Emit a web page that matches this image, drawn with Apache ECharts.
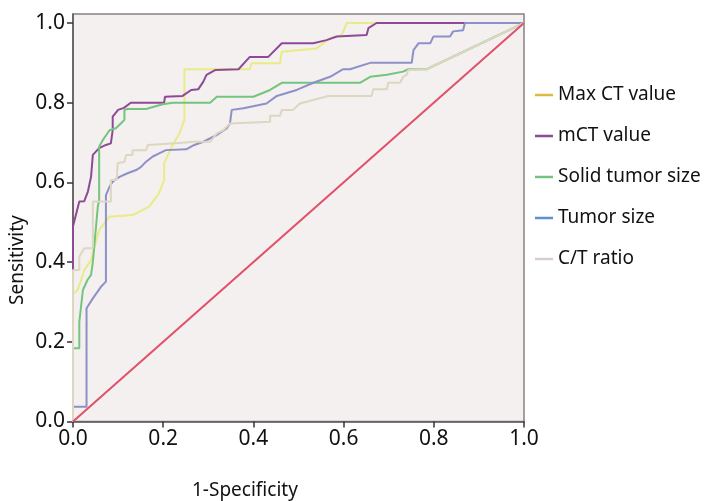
<!DOCTYPE html>
<html>
<head>
<meta charset="utf-8">
<script src="https://cdn.jsdelivr.net/npm/echarts@6/dist/echarts.min.js"></script>
<style>
html,body{margin:0;padding:0;background:#fff;}
#c{width:706px;height:501px;}
</style>
</head>
<body>
<div id="c"></div>
<script>
var seriesNames = ['Max CT value', 'mCT value', 'Solid tumor size', 'Tumor size', 'C/T ratio'];
var tickValues = [0, 0.2, 0.4, 0.6, 0.8, 1.0];

var maxCT = [[0,0],[0,0.32],[0.01,0.33],[0.018,0.355],[0.025,0.38],[0.04,0.405],[0.058,0.48],[0.081,0.514],[0.132,0.518],[0.169,0.539],[0.191,0.573],[0.202,0.606],[0.202,0.648],[0.221,0.694],[0.236,0.723],[0.247,0.757],[0.247,0.884],[0.392,0.884],[0.396,0.899],[0.459,0.899],[0.463,0.928],[0.54,0.936],[0.57,0.962],[0.596,0.97],[0.607,1.0],[1,1]];

var mCT = [[0,0],[0,0.49],[0.014,0.552],[0.025,0.553],[0.033,0.577],[0.04,0.614],[0.044,0.669],[0.058,0.686],[0.073,0.694],[0.084,0.698],[0.088,0.731],[0.088,0.765],[0.1,0.782],[0.113,0.787],[0.128,0.80],[0.202,0.80],[0.204,0.815],[0.243,0.817],[0.262,0.832],[0.278,0.834],[0.289,0.853],[0.296,0.87],[0.315,0.882],[0.367,0.884],[0.392,0.915],[0.433,0.915],[0.463,0.949],[0.533,0.949],[0.562,0.957],[0.585,0.966],[0.651,0.97],[0.655,0.987],[0.673,1.0],[1,1]];

var solidSize = [[0,0],[0,0.184],[0.014,0.184],[0.014,0.25],[0.022,0.33],[0.032,0.355],[0.04,0.368],[0.044,0.4],[0.055,0.539],[0.058,0.556],[0.058,0.69],[0.066,0.706],[0.081,0.731],[0.095,0.736],[0.106,0.748],[0.114,0.757],[0.114,0.782],[0.121,0.784],[0.162,0.784],[0.199,0.796],[0.221,0.80],[0.304,0.80],[0.319,0.815],[0.40,0.815],[0.437,0.832],[0.463,0.85],[0.636,0.85],[0.659,0.865],[0.696,0.87],[0.732,0.878],[0.743,0.884],[0.784,0.884],[1,1]];

var tumorSize = [[0,0],[0,0.037],[0.03,0.037],[0.03,0.284],[0.044,0.309],[0.062,0.338],[0.073,0.351],[0.073,0.568],[0.081,0.589],[0.088,0.602],[0.103,0.614],[0.121,0.623],[0.14,0.631],[0.151,0.639],[0.162,0.652],[0.177,0.665],[0.191,0.673],[0.206,0.681],[0.251,0.683],[0.269,0.694],[0.289,0.702],[0.319,0.719],[0.341,0.736],[0.348,0.748],[0.352,0.782],[0.378,0.786],[0.429,0.798],[0.452,0.817],[0.496,0.832],[0.533,0.85],[0.57,0.865],[0.599,0.884],[0.614,0.884],[0.659,0.90],[0.751,0.90],[0.755,0.932],[0.766,0.949],[0.792,0.949],[0.799,0.966],[0.836,0.966],[0.843,0.979],[0.865,0.982],[0.869,1.0],[1,1]];

var ctRatio = [[0,0],[0,0.38],[0.014,0.38],[0.014,0.414],[0.025,0.435],[0.044,0.435],[0.044,0.552],[0.084,0.552],[0.084,0.606],[0.097,0.606],[0.099,0.648],[0.114,0.652],[0.118,0.669],[0.132,0.669],[0.132,0.681],[0.162,0.681],[0.166,0.694],[0.228,0.698],[0.269,0.702],[0.304,0.702],[0.319,0.723],[0.333,0.731],[0.348,0.748],[0.437,0.752],[0.437,0.767],[0.459,0.767],[0.463,0.782],[0.488,0.782],[0.503,0.798],[0.566,0.817],[0.662,0.817],[0.666,0.834],[0.696,0.834],[0.699,0.85],[0.725,0.85],[0.732,0.865],[0.74,0.87],[0.743,0.882],[0.784,0.884],[1,1]];

var referenceLine = [[0,0],[1,1]];

var lineColors = ['#e8eb86', '#8e4a97', '#74c47f', '#8d90c9', '#ddd6c0'];
var legendColors = ['#d9bb45', '#8e4a97', '#74c47f', '#5f8fcf', '#d8cccc'];
var FONT = 'Noto Sans';

var chart = echarts.init(document.getElementById('c'), null, {renderer: 'canvas'});
var dataSets = [maxCT, mCT, solidSize, tumorSize, ctRatio];
var series = dataSets.map(function (d, i) {
  return {
    name: seriesNames[i],
    type: 'line',
    data: d,
    symbol: 'none',
    animation: false,
    lineStyle: {color: lineColors[i], width: 2},
    itemStyle: {color: legendColors[i]}
  };
});
series.push({
  name: 'ref',
  type: 'line',
  data: referenceLine,
  symbol: 'none',
  animation: false,
  lineStyle: {color: '#e0506a', width: 2}
});

var option = {
  animation: false,
  backgroundColor: '#ffffff',
  grid: {
    left: 73, right: 182, top: 14, bottom: 79.5,
    show: true, backgroundColor: '#f3f0ef', borderColor: '#8a7f86', borderWidth: 1.5
  },
  xAxis: {
    type: 'value', min: 0, max: 1, interval: 0.2,
    axisLine: {show: true, lineStyle: {color: '#5e5459', width: 1.5}},
    axisTick: {show: true, length: 6, lineStyle: {color: '#3a3236', width: 1.5}},
    axisLabel: {fontSize: 21, color: '#111', fontFamily: FONT, margin: 7,
      formatter: function (v) { return v.toFixed(1); }},
    splitLine: {show: false}
  },
  yAxis: {
    type: 'value', min: 0, max: 1.0226,
    axisLine: {show: true, lineStyle: {color: '#5e5459', width: 1.5}},
    axisTick: {show: true, length: 6, customValues: tickValues, lineStyle: {color: '#3a3236', width: 1.5}},
    axisLabel: {fontSize: 21, color: '#111', fontFamily: FONT, margin: 8, customValues: tickValues,
      formatter: function (v) { return v.toFixed(1); }},
    splitLine: {show: false}
  },
  legend: {
    orient: 'vertical', left: 535, top: 84, padding: 0,
    icon: 'rect',
    itemWidth: 18, itemHeight: 2.5, itemGap: 19,
    textStyle: {fontSize: 19, color: '#111', fontFamily: FONT, lineHeight: 22},
    data: seriesNames.map(function (n, i) {
      return {name: n, itemStyle: {color: legendColors[i]}};
    })
  },
  graphic: [
    {type: 'text', left: 192, top: 481, style: {text: '1-Specificity', font: '19px "Noto Sans"', fill: '#111'}},
    {type: 'text', x: 8, y: 305, rotation: Math.PI / 2, style: {text: 'Sensitivity', font: '19px "Noto Sans"', fill: '#111'}}
  ],
  series: series
};
chart.setOption(option);
</script>
</body>
</html>
